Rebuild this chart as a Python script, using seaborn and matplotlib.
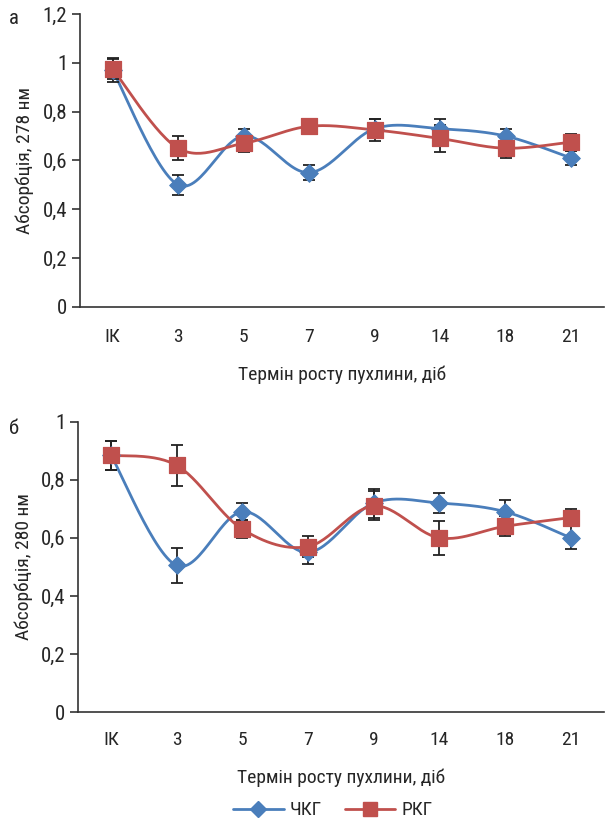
import numpy as np
import pandas as pd
import matplotlib
matplotlib.use("Agg")
import matplotlib.pyplot as plt
from matplotlib import font_manager
from matplotlib.lines import Line2D
import seaborn as sns

# дані
days = ["ІК", "3", "5", "7", "9", "14", "18", "21"]

chkg_278 = [0.97, 0.50, 0.70, 0.55, 0.73, 0.73, 0.70, 0.61]
chkg_278_err = [0.05, 0.04, 0.03, 0.03, 0.04, 0.04, 0.03, 0.03]
rkg_278 = [0.975, 0.65, 0.67, 0.74, 0.725, 0.69, 0.65, 0.675]
rkg_278_err = [0.04, 0.05, 0.035, 0.025, 0.045, 0.055, 0.04, 0.035]

chkg_280 = [0.885, 0.505, 0.69, 0.55, 0.72, 0.72, 0.69, 0.60]
chkg_280_err = [0.05, 0.06, 0.03, 0.04, 0.05, 0.035, 0.04, 0.04]
rkg_280 = [0.885, 0.85, 0.63, 0.57, 0.71, 0.60, 0.64, 0.67]
rkg_280_err = [0.05, 0.07, 0.03, 0.035, 0.05, 0.058, 0.035, 0.03]

blue = "#4a7ebb"
red = "#c0504d"
sns.set_style("white")

# вузький шрифт, якщо є
names = {f.name for f in font_manager.fontManager.ttflist}
fam = [n for n in ["Roboto Condensed", "Liberation Sans Narrow", "Open Sans Condensed",
                   "Roboto", "Liberation Sans"] if n in names]
plt.rcParams["font.family"] = fam[:1] + ["DejaVu Sans"]
narrow = bool(fam) and ("Condensed" in fam[0] or "Narrow" in fam[0])
stretch = "normal" if narrow else "condensed"


def smooth(y):
    # згладжена лінія як в Excel (кубічні криві Безьє)
    x = np.arange(len(y), dtype=float)
    y = np.asarray(y, dtype=float)
    px = np.concatenate([[x[0]], x, [x[-1]]])
    py = np.concatenate([[y[0]], y, [y[-1]]])
    t = np.linspace(0, 1, 30)
    xs, ys = [], []
    for i in range(1, len(x)):
        p0 = np.array([px[i], py[i]])
        p3 = np.array([px[i + 1], py[i + 1]])
        c1 = p0 + (p3 - np.array([px[i - 1], py[i - 1]])) / 6
        c2 = p3 - (np.array([px[i + 2], py[i + 2]]) - p0) / 6
        b = ((1 - t) ** 3)[:, None] * p0 + (3 * (1 - t) ** 2 * t)[:, None] * c1 \
            + (3 * (1 - t) * t ** 2)[:, None] * c2 + (t ** 3)[:, None] * p3
        xs.extend(b[:, 0])
        ys.extend(b[:, 1])
    return pd.DataFrame({"x": xs, "y": ys})


def panel(ax, s1, e1, s2, e2, ymax, ylabel, center_dir, edge_dir):
    x = np.arange(len(days))
    for s, e, c, m, ms in [(s1, e1, blue, "D", 9), (s2, e2, red, "s", 11)]:
        sns.lineplot(data=smooth(s), x="x", y="y", sort=False, color=c, lw=2, ax=ax)
        ax.errorbar(x, s, yerr=e, fmt="none", ecolor="#222222", elinewidth=1.3,
                    capsize=4, capthick=1.3, zorder=3)
        sns.scatterplot(x=x, y=s, marker=m, s=ms ** 2, color=c, edgecolor=c,
                        ax=ax, zorder=4)
    ax.set_xlim(-0.5, len(days) - 0.5)
    ax.set_ylim(0, ymax)
    yt = np.arange(0, ymax + 0.01, 0.2)
    ax.set_yticks(yt)
    ax.set_yticklabels([("%g" % v).replace(".", ",") for v in yt], fontsize=15,
                       fontstretch=stretch)
    ax.set_xticks(x)
    ax.set_xticklabels(days, fontsize=14, fontstretch=stretch)
    ax.set_xticks(np.arange(-0.5, len(days)), minor=True)
    ax.tick_params(axis="x", which="major", direction=center_dir,
                   length=8 if center_dir == "inout" else 5, width=1.2,
                   color="#333333", pad=10)
    ax.tick_params(axis="x", which="minor", direction=edge_dir,
                   length=8 if edge_dir == "inout" else 6, width=1.2, color="#333333")
    ax.tick_params(axis="y", direction="out", length=6, width=1.2,
                   color="#333333", left=True, pad=3)
    for sp in ["top", "right"]:
        ax.spines[sp].set_visible(False)
    for sp in ["left", "bottom"]:
        ax.spines[sp].set_color("#333333")
        ax.spines[sp].set_linewidth(1.2)
    ax.set_xlabel("Термін росту пухлини, діб", fontsize=14, labelpad=14,
                  fontstretch=stretch)
    ax.set_ylabel(ylabel, fontsize=14, labelpad=6, fontstretch=stretch)


fig = plt.figure(figsize=(6.05, 8.27), dpi=100)
ax1 = fig.add_axes([0.132, 0.629, 0.866, 0.354])
ax2 = fig.add_axes([0.129, 0.139, 0.869, 0.351])

panel(ax1, chkg_278, chkg_278_err, rkg_278, rkg_278_err, 1.2,
      "Абсорбція, 278 нм", "out", "inout")
panel(ax2, chkg_280, chkg_280_err, rkg_280, rkg_280_err, 1.0,
      "Абсорбція, 280 нм", "inout", "out")
fig.text(0.015, 0.978, "а", fontsize=15, ha="left", va="center")
fig.text(0.015, 0.482, "б", fontsize=15, ha="left", va="center")

handles = [Line2D([], [], color=blue, lw=2, marker="D", ms=8),
           Line2D([], [], color=red, lw=2, marker="s", ms=10)]
fig.legend(handles, ["ЧКГ", "РКГ"], loc="center", bbox_to_anchor=(0.55, 0.02),
           ncol=2, frameon=False, prop={"size": 14, "stretch": stretch},
           handlelength=2.6, columnspacing=1.2, handletextpad=0.3)

fig.savefig("out.png", dpi=100)
